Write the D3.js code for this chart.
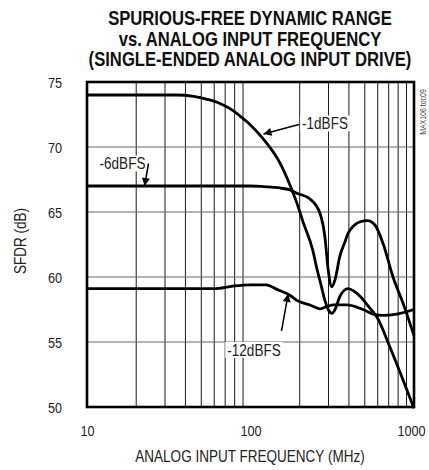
<!DOCTYPE html>
<html>
<head>
<meta charset="utf-8">
<script src="https://cdn.jsdelivr.net/npm/d3@7"></script>
<style>
  html, body { margin: 0; padding: 0; background: #fff; }
  svg { display: block; }
  text { font-family: "Liberation Sans", Arial, sans-serif; fill: #222; }
</style>
</head>
<body>
<svg id="chart" width="429" height="470"></svg>
<script>
// Spurious-free dynamic range vs analog input frequency, three input levels
const titleLines = [
  "SPURIOUS-FREE DYNAMIC RANGE",
  "vs. ANALOG INPUT FREQUENCY",
  "(SINGLE-ENDED ANALOG INPUT DRIVE)"
];
const xTicks = [10, 100, 1000];
const yTicks = [50, 55, 60, 65, 70, 75];
const xMinor = [20, 30, 40, 50, 60, 70, 80, 90, 200, 300, 400, 500, 600, 700, 800, 900];
const yGrid = [55, 60, 65, 70];

// input frequency (MHz) and SFDR (dB) for each drive level
const freqM1 = [10, 35, 45, 55, 65, 75, 86, 100, 120, 151, 174, 192, 210, 241, 254, 270, 285, 299, 314, 329, 352, 395, 430, 469, 530, 594, 713, 856, 1000];
const sfdrM1 = [74.0, 74.0, 73.9, 73.65, 73.35, 72.95, 72.4, 71.7, 70.6, 68.8, 67.1, 65.7, 64.2, 62.0, 60.7, 59.4, 58.2, 57.5, 57.2, 57.5, 58.5, 59.1, 58.9, 58.5, 57.7, 56.9, 54.6, 52.1, 49.9];

const freqM6 = [10, 50, 100, 120, 151, 174, 192, 231, 266, 285, 299, 314, 329, 352, 378, 395, 425, 469, 520, 577, 646, 744, 856, 1000];
const sfdrM6 = [67.0, 67.0, 67.0, 66.95, 66.85, 66.7, 66.45, 66.0, 64.9, 63.1, 60.5, 59.25, 59.8, 61.6, 62.7, 63.35, 63.9, 64.25, 64.33, 64.0, 62.6, 60.0, 58.0, 55.5];

const freqM12 = [10, 60, 78, 100, 125, 145, 174, 192, 231, 266, 290, 323, 387, 488, 577, 646, 784, 1000];
const sfdrM12 = [59.1, 59.1, 59.3, 59.4, 59.4, 59.05, 58.6, 58.2, 57.85, 57.55, 57.7, 57.85, 57.85, 57.5, 57.1, 57.05, 57.15, 57.5];

const seriesNames = ["-1dBFS", "-6dBFS", "-12dBFS"];

const svg = d3.select("#chart");
const plotL = 87, plotR = 414, plotT = 82, plotB = 407;
const NARROW = 0.82; // horizontal squeeze for the condensed lettering

// squeeze text horizontally about its anchor point
function condense(sel) {
  sel.each(function () {
    const t = d3.select(this);
    const x0 = +t.attr("x") || 0, y0 = +t.attr("y") || 0;
    const prev = t.attr("transform") || "";
    t.attr("x", 0).attr("y", 0)
      .attr("transform", `${prev} translate(${x0},${y0}) scale(${NARROW},1)`);
  });
  return sel;
}

const x = d3.scaleLog().domain([10, 1000]).range([plotL, plotR]);
const y = d3.scaleLinear().domain([50, 75]).range([plotB, plotT]);

// title
svg.append("g").selectAll("text").data(titleLines).join("text")
  .attr("x", 250).attr("y", (d, i) => 25 + i * 20.5)
  .attr("text-anchor", "middle")
  .style("font-size", "20.3px").style("font-weight", "bold").style("fill", "#111")
  .text(d => d)
  .call(condense);

// grid
const grid = svg.append("g");
grid.selectAll("line.v").data(xMinor).join("line")
  .attr("class", "v")
  .attr("x1", d => x(d)).attr("x2", d => x(d))
  .attr("y1", plotT).attr("y2", plotB)
  .attr("stroke", "#1a1a1a").attr("stroke-width", 1);
grid.selectAll("line.h").data(yGrid).join("line")
  .attr("class", "h")
  .attr("x1", plotL).attr("x2", plotR)
  .attr("y1", d => y(d)).attr("y2", d => y(d))
  .attr("stroke", "#666").attr("stroke-width", 1);

// axis labels from d3 axes, with domain and ticks hidden
const yAxis = svg.append("g").attr("transform", `translate(${plotL},0)`)
  .call(d3.axisLeft(y).tickValues(yTicks).tickSize(0).tickPadding(25).tickFormat(d3.format("d")));
yAxis.attr("font-family", null).attr("font-size", null);
yAxis.select(".domain").remove();
yAxis.selectAll("text").style("font-size", "15.5px").attr("dy", "0.36em").call(condense);

const xAxis = svg.append("g").attr("transform", `translate(0,${plotB})`)
  .call(d3.axisBottom(x).tickValues(xTicks).tickSize(0).tickPadding(18).tickFormat(d3.format("d")));
xAxis.attr("font-family", null).attr("font-size", null);
xAxis.select(".domain").remove();
xAxis.selectAll("text").style("font-size", "15.5px").attr("dy", "0.71em")
  .attr("x", d => d === 1000 ? -3 : 0).call(condense);

svg.append("text").attr("x", 250).attr("y", 462).attr("text-anchor", "middle")
  .style("font-size", "16.5px").text("ANALOG INPUT FREQUENCY (MHz)").call(condense);
svg.append("text").attr("transform", "translate(26,241) rotate(-90)")
  .attr("text-anchor", "middle").style("font-size", "16.5px").text("SFDR (dB)").call(condense);

svg.append("text").attr("transform", "translate(426,112) rotate(-90)")
  .attr("text-anchor", "middle").style("font-size", "8.5px").style("fill", "#444")
  .text("MAX106 toc09").call(condense);

// curves
const line = d3.line().x(d => x(d[0])).y(d => y(d[1])).curve(d3.curveMonotoneX);
const seriesData = [
  d3.zip(freqM1, sfdrM1),
  d3.zip(freqM6, sfdrM6),
  d3.zip(freqM12, sfdrM12)
];
svg.append("g").selectAll("path").data(seriesData).join("path")
  .attr("d", line).attr("fill", "none")
  .attr("stroke", "#000").attr("stroke-width", 2.8)
  .attr("stroke-linejoin", "round");

// frame
svg.append("rect").attr("x", plotL).attr("y", plotT)
  .attr("width", plotR - plotL).attr("height", plotB - plotT)
  .attr("fill", "none").attr("stroke", "#000").attr("stroke-width", 2.6);

// arrow marker
svg.append("defs").append("marker")
  .attr("id", "arrow").attr("viewBox", "0 0 10 10")
  .attr("refX", 10).attr("refY", 5)
  .attr("markerWidth", 12).attr("markerHeight", 8)
  .attr("markerUnits", "userSpaceOnUse")
  .attr("orient", "auto")
  .append("path").attr("d", "M0,0 L10,5 L0,10 Z").attr("fill", "#000");

// callout labels: text centre, arrow tail and arrow tip (frequency, dB)
const callouts = [
  { name: seriesNames[0], tx: 325, ty: 123.5, from: [299, 124.5], to: [120, 71.0] },
  { name: seriesNames[1], tx: 122.5, ty: 163.5, from: [148.5, 163.5], to: [22.5, 67.0] },
  { name: seriesNames[2], tx: 254, ty: 350, from: [281.5, 331], to: [170, 58.7] }
];
const co = svg.append("g");
callouts.forEach(c => {
  co.append("line")
    .attr("x1", c.from[0]).attr("y1", c.from[1])
    .attr("x2", x(c.to[0])).attr("y2", y(c.to[1]))
    .attr("stroke", "#000").attr("stroke-width", 1.5)
    .attr("marker-end", "url(#arrow)");
  const t = co.append("text").attr("x", c.tx).attr("y", c.ty).attr("dy", "0.36em")
    .attr("text-anchor", "middle").style("font-size", "16.5px").text(c.name);
  const b = t.node().getBBox();
  const w = b.width * NARROW;
  co.insert("rect", "text").attr("x", c.tx - w / 2 - 2).attr("y", b.y + 1)
    .attr("width", w + 4).attr("height", b.height - 2).attr("fill", "#fff");
  t.call(condense);
});
</script>
</body>
</html>
